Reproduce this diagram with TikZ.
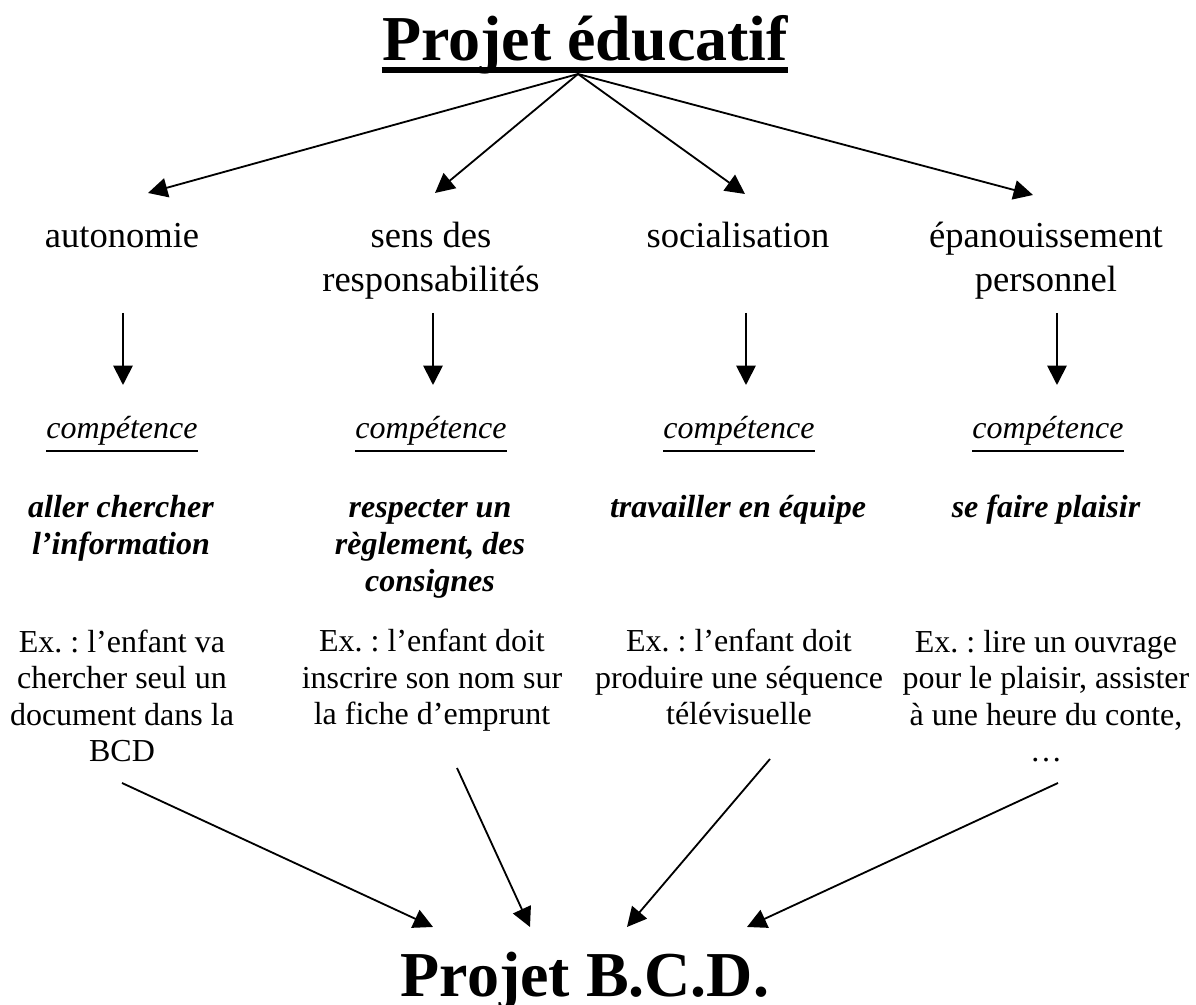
\documentclass[tikz,border=0pt]{standalone}
\usepackage{fontspec}
\setmainfont{Liberation Serif}
\frenchspacing
\usetikzlibrary{arrows.meta,calc}
\tikzstyle{tt}=[anchor=base,inner sep=0pt,font=\fontsize{28}{32}\selectfont\bfseries]
\tikzstyle{lv}=[anchor=base,inner sep=0pt,align=center,font=\fontsize{16}{19.25}\selectfont]
\tikzstyle{cp}=[anchor=base,inner sep=0pt,font=\fontsize{14}{16}\selectfont\itshape]
\tikzstyle{kb}=[anchor=base,inner sep=0pt,align=center,font=\fontsize{14}{16.2}\selectfont\bfseries\itshape]
\tikzstyle{ex}=[anchor=base,inner sep=0pt,align=center,font=\fontsize{14}{16}\selectfont]
\tikzstyle{arr}=[-{Triangle[length=8.5pt,width=8.5pt]},line width=.8pt]
\begin{document}
\begin{tikzpicture}[x=.4375pt,y=-.4375pt]
\useasboundingbox (0,0) rectangle (1196,1005);
\node[tt] (pe) at (585,61) {Projet éducatif};
\draw[line width=2.6pt] ($(pe.base west)+(0,9)$) -- ($(pe.base east)+(0,9)$);
\coordinate (apex) at ($(pe.base)+(-7,13)$);
\node[lv] (auto) at (122,248) {autonomie};
\node[lv] (resp) at (431,292) {sens des\\responsabilités};
\node[lv] (soc) at (738,248) {socialisation};
\node[lv] (epa) at (1046,292) {épanouissement\\personnel};
\node[cp] (c1) at (122,439) {compétence};
\node[cp] (c2) at (431,439) {compétence};
\node[cp] (c3) at (739,439) {compétence};
\node[cp] (c4) at (1048,439) {compétence};
\foreach \i in {1,...,4}
  \draw[line width=.6pt] ($(c\i.base west)+(0,12)$) -- ($(c\i.base east)+(0,12)$);
\node[kb] (k1) at (121,555) {aller chercher\\l’information};
\node[kb] (k2) at (430,592) {respecter un\\règlement, des\\consignes};
\node[kb] (k3) at (738,518) {travailler en équipe};
\node[kb] (k4) at (1046,518) {se faire plaisir};
\node[ex] (ex1) at (122,762) {Ex. : l’enfant va\\chercher seul un\\document dans la\\BCD};
\node[ex] (ex2) at (432,725) {Ex. : l’enfant doit\\inscrire son nom sur\\la fiche d’emprunt};
\node[ex] (ex3) at (739,725) {Ex. : l’enfant doit\\produire une séquence\\télévisuelle};
\node[ex] (ex4) at (1046,762) {Ex. : lire un ouvrage\\pour le plaisir, assister\\à une heure du conte,\\…};
\node[tt] (bcd) at (585,997) {Projet B.C.D.};
\draw[arr] (apex) -- ($(auto.base)+(26,-55)$);
\draw[arr] (apex) -- ($(resp.base)+(4,-99)$);
\draw[arr] (apex) -- ($(soc.base)+(7,-54)$);
\draw[arr] (apex) -- ($(epa.base)+(-13,-97)$);
\draw[arr] ($(auto.base)+(1,65)$) -- ($(c1.base)+(1,-54)$);
\draw[arr] ($(resp.base)+(2,21)$) -- ($(c2.base)+(2,-54)$);
\draw[arr] ($(soc.base)+(8,65)$) -- ($(c3.base)+(7,-54)$);
\draw[arr] ($(epa.base)+(11,21)$) -- ($(c4.base)+(9,-54)$);
\draw[arr] ($(ex1.base)+(0,21)$) -- ($(bcd.base)+(-152,-70)$);
\draw[arr] ($(ex2.base)+(25,43)$) -- ($(bcd.base)+(-55,-70)$);
\draw[arr] ($(ex3.base)+(31,34)$) -- ($(bcd.base)+(42,-70)$);
\draw[arr] ($(ex4.base)+(12,21)$) -- ($(bcd.base)+(162,-70)$);
\end{tikzpicture}
\end{document}
